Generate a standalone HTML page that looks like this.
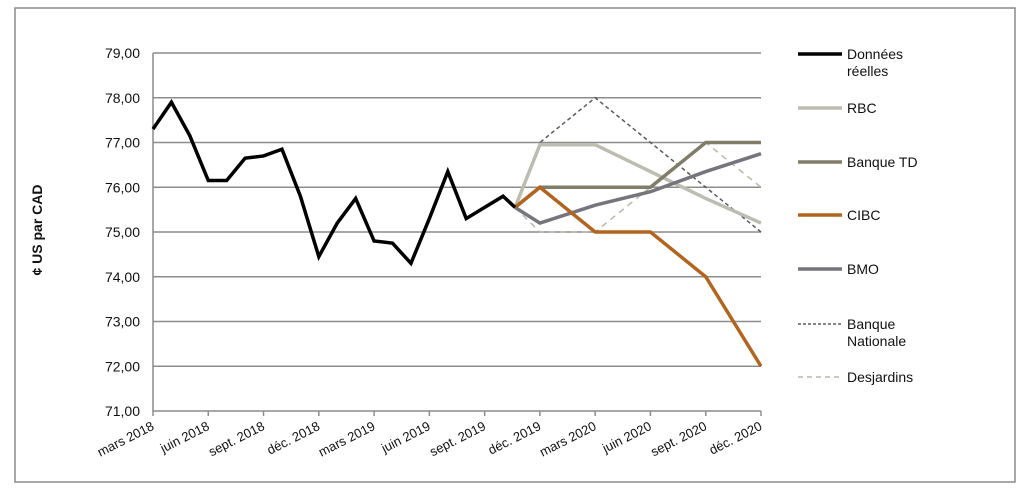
<!DOCTYPE html>
<html><head><meta charset="utf-8"><style>
html,body{margin:0;padding:0;background:#fff;}
svg{display:block;font-family:"Liberation Sans",sans-serif;}
</style></head><body>
<svg id="chart" width="1024" height="495" viewBox="0 0 1024 495">
<rect x="15" y="8" width="1000" height="474" fill="none" stroke="#8a8a8a" stroke-width="1.5"/>
<g id="grid"></g><g id="axes"></g><g id="series"></g><g id="legend"></g>
<text x="0" y="0" transform="translate(42,230) rotate(-90)" text-anchor="middle" font-size="14" font-weight="bold" fill="#111">¢ US par CAD</text>
</svg>
<script>
const yTicks=[71,72,73,74,75,76,77,78,79];
const xTickLabels=["mars 2018","juin 2018","sept. 2018","déc. 2018","mars 2019","juin 2019","sept. 2019","déc. 2019","mars 2020","juin 2020","sept. 2020","déc. 2020"];
// x in months since mars 2018
const actualMonths=[0,1,2,3,4,5,6,7,8,9,10,11,12,13,14,15,16,17,18,19,19.65];
const actualValues=[77.3,77.9,77.15,76.15,76.15,76.65,76.7,76.85,75.8,74.45,75.2,75.75,74.8,74.75,74.3,75.3,76.35,75.3,75.55,75.8,75.55];
const fcMonths=[19.65,21,24,27,30,33];
const rbc=[75.55,76.95,76.95,76.35,75.75,75.2];
const td=[75.55,76.0,76.0,76.0,77.0,77.0];
const cibc=[75.55,76.0,75.0,75.0,74.0,72.0];
const bmo=[75.55,75.2,75.6,75.9,76.35,76.75];
const bn=[75.55,77.0,78.0,77.0,76.0,75.0];
const desj=[75.55,75.0,75.0,76.0,77.0,76.0];
const NS="http://www.w3.org/2000/svg";
const X0=153,X1=761,Y0=411,Y1=53;
const xs=m=>X0+m*(X1-X0)/33;
const ys=v=>Y0-(v-71)*(Y0-Y1)/8;
function mk(tag,attrs,parent){const e=document.createElementNS(NS,tag);for(const k in attrs)e.setAttribute(k,attrs[k]);document.getElementById(parent).appendChild(e);return e;}
yTicks.forEach(v=>{
  if(v>71){const l=mk('line',{x1:X0,x2:X1,y1:ys(v),y2:ys(v),stroke:'#8c8c8c','stroke-width':1.5},'grid');
  
  }
  const t=mk('text',{x:140,y:ys(v)+5,'text-anchor':'end','font-size':14,fill:'#111'},'axes');
  t.textContent=v.toFixed(2).replace('.',',');
  
  
});
let a=mk('line',{x1:X0,x2:X0,y1:Y1,y2:Y0,stroke:'#8c8c8c','stroke-width':1.5},'axes');


a=mk('line',{x1:X0,x2:X1,y1:Y0,y2:Y0,stroke:'#8c8c8c','stroke-width':1.5},'axes');


xTickLabels.forEach((s,i)=>{
  const x=xs(i*3);
  const tk=mk('line',{x1:x,x2:x,y1:Y0,y2:Y0+5,stroke:'#8c8c8c','stroke-width':1.5},'axes');
  
  
  const t=mk('text',{x:0,y:0,'text-anchor':'end','font-size':13,fill:'#111',transform:`translate(${x+2},${Y0+18}) rotate(-27)`},'axes');
  t.textContent=s;
  
  
});
function line(ms,vals,color,w,dash,name){
  const p=mk('polyline',{points:ms.map((m,i)=>xs(m)+','+ys(vals[i])).join(' '),fill:'none',stroke:color,'stroke-width':w,'stroke-linejoin':'miter'},'series');
  if(dash)p.setAttribute('stroke-dasharray',dash);
  
  
}
line(fcMonths,desj,'#b9b8a8',1.5,'6,5','series-desjardins');
line(fcMonths,bn,'#5a5a60',1.5,'4,3','series-banque-nationale');
line(fcMonths,rbc,'#bdbcb0',3.5,null,'series-rbc');
line(fcMonths,td,'#807d68',3.5,null,'series-banque-td');
line(fcMonths,bmo,'#76747c',3.5,null,'series-bmo');
line(fcMonths,cibc,'#b2651e',3.5,null,'series-cibc');
line(actualMonths,actualValues,'#000',3.5,null,'series-donnees-reelles');
const legendItems=[["Données|réelles",'#000',3.5,null,53],["RBC",'#bdbcb0',3.5,null,107],["Banque TD",'#807d68',3.5,null,161],["CIBC",'#b2651e',3.5,null,214],["BMO",'#76747c',3.5,null,268],["Banque|Nationale",'#5a5a60',1.5,'3,2',323],["Desjardins",'#b9b8a8',1.5,'5,4',376]];
legendItems.forEach(([lab,c,w,d,y])=>{
  const l=mk('line',{x1:798,x2:842,y1:y+1,y2:y+1,stroke:c,'stroke-width':w},'legend');
  if(d)l.setAttribute('stroke-dasharray',d);
  
  
  lab.split('|').forEach((s,j)=>{
    const t=mk('text',{x:847,y:y+6+j*17,'font-size':14,fill:'#111'},'legend');
    t.textContent=s;
    
    
  });
});
</script>
</body></html>
